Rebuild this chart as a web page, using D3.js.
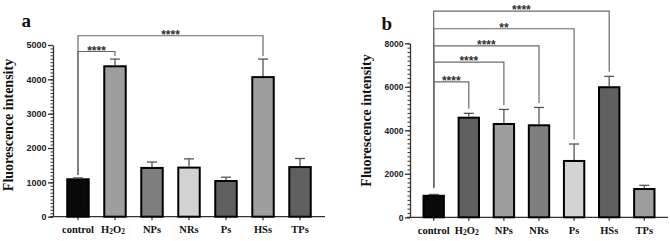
<!DOCTYPE html>
<html>
<head>
<meta charset="utf-8">
<script src="https://cdn.jsdelivr.net/npm/d3@7"></script>
<style>
  html, body { margin: 0; padding: 0; background: #fff; }
  svg { display: block; }
</style>
</head>
<body>
<svg id="chart" width="670" height="241"></svg>
<script>
// ---- data ----
const categories = ["control", "H2O2", "NPs", "NRs", "Ps", "HSs", "TPs"];

const meanA = [1090, 4380, 1420, 1430, 1040, 4065, 1445];
const sdA   = [40, 210, 170, 255, 110, 525, 250];
const fillA = ["#0a0a0a", "#9e9e9e", "#7f7f7f", "#d3d3d3", "#606060", "#9e9e9e", "#606060"];
const yTicksA = [0, 1000, 2000, 3000, 4000, 5000];
const sigA = [
  { to: 1, label: "****", level: 4810 },
  { to: 5, label: "****", level: 5270 }
];

const meanB = [990, 4580, 4290, 4230, 2590, 5980, 1300];
const sdB   = [60, 200, 670, 820, 780, 500, 170];
const fillB = ["#0a0a0a", "#606060", "#9e9e9e", "#7f7f7f", "#d3d3d3", "#606060", "#9e9e9e"];
const yTicksB = [0, 2000, 4000, 6000, 8000];
const sigB = [
  { to: 1, label: "****", level: 6230 },
  { to: 2, label: "****", level: 7130 },
  { to: 3, label: "****", level: 7880 },
  { to: 4, label: "**",   level: 8670 },
  { to: 5, label: "****", level: 9480 }
];

const svg = d3.select("#chart");

function drawPanel(o) {
  const g = svg.append("g");
  const x = d3.scaleBand().domain(categories).range([o.x0, o.x1])
    .paddingInner(0.42).paddingOuter(0.385);
  const y = d3.scaleLinear().domain([0, o.yMax]).range([o.yBottom, o.yTop]);

  // minor ticks
  g.append("g").attr("transform", `translate(${o.x0},0)`)
    .call(d3.axisLeft(y).tickValues(d3.range(0, o.yMax + 1, o.minor)).tickSize(2.5).tickFormat(""))
    .call(a => a.select(".domain").remove())
    .call(a => a.selectAll("line").attr("stroke", "#333").attr("stroke-width", 1));

  // major y axis
  g.append("g").attr("transform", `translate(${o.x0},0)`)
    .call(d3.axisLeft(y).tickValues(o.ticks).tickSize(5).tickSizeOuter(0).tickPadding(1.5).tickFormat(d3.format("d")))
    .call(a => a.select(".domain").attr("stroke", "#333").attr("stroke-width", 1.3))
    .call(a => a.selectAll("line").attr("stroke", "#333").attr("stroke-width", 1.3))
    .call(a => a.selectAll("text").attr("font-family", "'Liberation Sans', Arial, sans-serif")
      .attr("font-weight", "bold").attr("font-size", o.tickFont).attr("fill", "#222"));

  // x axis
  const xa = g.append("g").attr("transform", `translate(0,${o.yBottom})`);
  xa.append("line").attr("x1", o.x0 - 3).attr("x2", o.x1).attr("stroke", "#333").attr("stroke-width", 1.3);
  xa.selectAll("line.tk").data(categories).join("line").attr("class", "tk")
    .attr("x1", d => x(d) + x.bandwidth() / 2).attr("x2", d => x(d) + x.bandwidth() / 2)
    .attr("y1", 0).attr("y2", 3.5).attr("stroke", "#333").attr("stroke-width", 1.2);
  const lbl = xa.selectAll("text").data(categories).join("text")
    .attr("x", d => x(d) + x.bandwidth() / 2).attr("y", o.labelY - o.yBottom)
    .attr("text-anchor", "middle")
    .attr("font-family", "'Liberation Serif', 'Times New Roman', serif")
    .attr("font-weight", "bold").attr("font-size", 10.5).attr("fill", "#111");
  lbl.each(function(d) {
    const t = d3.select(this);
    if (d === "H2O2") {
      t.attr("dx", -2);
      t.append("tspan").text("H");
      t.append("tspan").attr("font-size", 7.5).attr("dy", 1).text("2");
      t.append("tspan").attr("dy", -1).text("O");
      t.append("tspan").attr("font-size", 7.5).attr("dy", 1).text("2");
    } else {
      t.text(d);
    }
  });

  // bars
  g.selectAll("rect.bar").data(categories).join("rect").attr("class", "bar")
    .attr("x", d => x(d)).attr("width", x.bandwidth())
    .attr("y", (d, i) => y(o.mean[i])).attr("height", (d, i) => y(0) - y(o.mean[i]))
    .attr("fill", (d, i) => o.fill[i]).attr("stroke", "#000").attr("stroke-width", 2);

  // error bars (upper only)
  const eb = g.selectAll("g.eb").data(categories).join("g").attr("class", "eb")
    .attr("transform", d => `translate(${x(d) + x.bandwidth() / 2},0)`);
  eb.append("line").attr("y1", (d, i) => y(o.mean[i]) - 1).attr("y2", (d, i) => y(o.mean[i] + o.sd[i]))
    .attr("stroke", "#555").attr("stroke-width", 1.3);
  eb.append("line").attr("x1", -5).attr("x2", 5)
    .attr("y1", (d, i) => y(o.mean[i] + o.sd[i])).attr("y2", (d, i) => y(o.mean[i] + o.sd[i]))
    .attr("stroke", "#555").attr("stroke-width", 1.3);

  // significance brackets
  const cx = i => x(categories[i]) + x.bandwidth() / 2;
  const topOf = i => y(o.mean[i] + o.sd[i]);
  o.sig.forEach(s => {
    const ly = y(s.level);
    const x1 = cx(0), x2 = cx(s.to);
    g.append("path")
      .attr("d", `M${x1},${topOf(0) - o.gap0}V${ly}H${x2}V${topOf(s.to) - o.gap}`)
      .attr("fill", "none").attr("stroke", "#6a6a6a").attr("stroke-width", 1.2);
    g.append("text").attr("x", (x1 + x2) / 2).attr("y", ly + 3)
      .attr("text-anchor", "middle")
      .attr("font-family", "'Liberation Sans', Arial, sans-serif").attr("font-weight", "bold")
      .attr("font-size", 12).attr("fill", "#333").text(s.label);
  });

  // y label
  g.append("text")
    .attr("transform", `translate(${o.ylabX},${o.ylabY}) rotate(-90)`)
    .attr("text-anchor", "middle")
    .attr("font-family", "'Liberation Serif', 'Times New Roman', serif")
    .attr("font-weight", "bold").attr("font-size", 14).attr("fill", "#111")
    .text("Fluorescence intensity");

  // panel letter
  g.append("text").attr("x", o.letterX).attr("y", o.letterY)
    .attr("font-family", "'Liberation Serif', 'Times New Roman', serif")
    .attr("font-weight", "bold").attr("font-size", 19).attr("fill", "#111")
    .text(o.letter);
}

drawPanel({
  x0: 53, x1: 325, yTop: 45, yBottom: 216.7, yMax: 5000, minor: 100, ticks: yTicksA,
  mean: meanA, sd: sdA, fill: fillA, sig: sigA, tickFont: 9, labelY: 233,
  gap: 3, gap0: 3, ylabX: 12.6, ylabY: 125, letter: "a", letterX: 21.5, letterY: 27
});
drawPanel({
  x0: 410, x1: 668, yTop: 43.3, yBottom: 217.3, yMax: 8000, minor: 200, ticks: yTicksB,
  mean: meanB, sd: sdB, fill: fillB, sig: sigB, tickFont: 8.5, labelY: 234,
  gap: 4.5, gap0: 7, ylabX: 371, ylabY: 120.5, letter: "b", letterX: 381.5, letterY: 30
});
</script>
</body>
</html>
